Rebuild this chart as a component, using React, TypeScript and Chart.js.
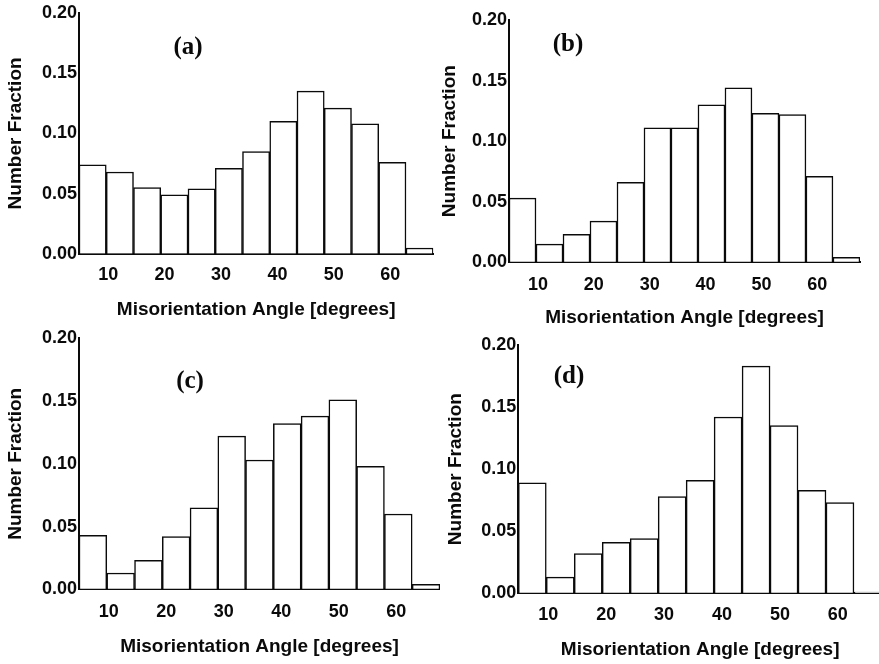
import React, { useEffect, useRef } from "react";
import { Chart, registerables } from "chart.js";
Chart.register(...registerables);

// ---- data ----
const angleBins = [7.245, 12.075, 16.905, 21.735, 26.565, 31.395, 36.225, 41.055, 45.885, 50.715, 55.545, 60.375, 65.205];
const xTickValues = [10, 20, 30, 40, 50, 60];
const yTickValues = [0, 0.05, 0.1, 0.15, 0.2];
const fractionA = [0.074, 0.068, 0.055, 0.049, 0.054, 0.071, 0.085, 0.110, 0.135, 0.121, 0.108, 0.076, 0.005];
const fractionB = [0.053, 0.015, 0.023, 0.034, 0.066, 0.111, 0.111, 0.130, 0.144, 0.123, 0.122, 0.071, 0.004];
const fractionC = [0.043, 0.013, 0.023, 0.042, 0.065, 0.122, 0.103, 0.132, 0.138, 0.151, 0.098, 0.060, 0.004];
const fractionD = [0.089, 0.013, 0.032, 0.041, 0.044, 0.078, 0.091, 0.142, 0.183, 0.135, 0.083, 0.073, 0.001];
const panelLabels = ["(a)", "(b)", "(c)", "(d)"];
const xTitleText = "Misorientation Angle [degrees]";
const yTitleText = "Number Fraction";
const xMin = 4.83;
const xMax = 67.63;

// ---- layout (page pixel positions) ----
type Layout = {
  cx: number; cy: number; cw: number; ch: number;
  L: number; T: number; R: number; B: number;
  xTickY: number; yTitleX: number; xTitleY: number;
  labelX: number; labelY: number;
};

const layouts: Layout[] = [
  { cx: 0, cy: 0, cw: 440, ch: 324, L: 79, T: 12.7, R: 433.3, B: 254, xTickY: 275, yTitleX: 15.5, xTitleY: 310, labelX: 188, labelY: 45 },
  { cx: 430, cy: 0, cw: 449, ch: 334, L: 509, T: 20, R: 860, B: 262.3, xTickY: 285, yTitleX: 449.5, xTitleY: 318, labelX: 568, labelY: 42 },
  { cx: 0, cy: 322, cw: 440, ch: 342, L: 79, T: 338.3, R: 440, B: 589.3, xTickY: 612, yTitleX: 15.5, xTitleY: 647, labelX: 190, labelY: 379 },
  { cx: 430, cy: 322, cw: 460, ch: 342, L: 518.3, T: 345, R: 882, B: 593.3, xTickY: 615, yTitleX: 456, xTitleY: 650, labelX: 569, labelY: 374 },
];

const panelData = [fractionA, fractionB, fractionC, fractionD];

const TICK_FONT = 18;
const TITLE_FONT = 19;
const FAMILY = "'Liberation Sans', Arial, sans-serif";

function Panel({ values, lay, label }: { values: number[]; lay: Layout; label: string }) {
  const ref = useRef<HTMLCanvasElement | null>(null);
  useEffect(() => {
    if (!ref.current) return;
    const tickLh = TICK_FONT * 1.2;
    const titleLh = TITLE_FONT * 1.2;
    const yWidth = lay.L - lay.cx;
    const xHeight = lay.cy + lay.ch - lay.B;
    const chart = new Chart(ref.current, {
      type: "bar",
      data: {
        datasets: [
          {
            data: angleBins.map((x, i) => ({ x, y: values[i] })),
            backgroundColor: "#ffffff",
            borderColor: "#0a0a0a",
            borderWidth: 1.5,
            barPercentage: 1,
            categoryPercentage: 1,
          },
        ],
      },
      options: {
        responsive: false,
        animation: false,
        devicePixelRatio: 1,
        layout: {
          padding: { left: 0, top: lay.T - lay.cy, right: lay.cx + lay.cw - lay.R, bottom: 0 },
        },
        plugins: { legend: { display: false }, tooltip: { enabled: false } },
        scales: {
          x: {
            type: "linear",
            min: xMin,
            max: xMax,
            offset: false,
            grid: { display: true, color: "rgba(0,0,0,0)", drawTicks: false },
            border: { display: true, color: "#0a0a0a", width: 2 },
            afterBuildTicks: (scale: any) => {
              scale.ticks = xTickValues.map((v) => ({ value: v }));
            },
            afterFit: (scale: any) => {
              scale.height = xHeight;
            },
            ticks: {
              autoSkip: false,
              maxRotation: 0,
              padding: lay.xTickY - lay.B - tickLh / 2,
              color: "#0a0a0a",
              font: { family: FAMILY, size: TICK_FONT, weight: "bold" },
              callback: (v: any) => String(v),
            },
            title: {
              display: true,
              text: xTitleText,
              color: "#0a0a0a",
              font: { family: FAMILY, size: TITLE_FONT, weight: "bold" },
              padding: { top: 0, bottom: lay.cy + lay.ch - titleLh / 2 - lay.xTitleY },
            },
          },
          y: {
            min: 0,
            max: 0.2,
            grid: { display: true, color: "rgba(0,0,0,0)", drawTicks: false },
            border: { display: true, color: "#0a0a0a", width: 2 },
            afterBuildTicks: (scale: any) => {
              scale.ticks = yTickValues.map((v) => ({ value: v }));
            },
            afterFit: (scale: any) => {
              scale.width = yWidth;
            },
            ticks: {
              padding: 2,
              color: "#0a0a0a",
              font: { family: FAMILY, size: TICK_FONT, weight: "bold" },
              callback: (v: any) => Number(v).toFixed(2),
            },
            title: {
              display: true,
              text: yTitleText,
              color: "#0a0a0a",
              font: { family: FAMILY, size: TITLE_FONT, weight: "bold" },
              padding: { top: lay.yTitleX - lay.cx - titleLh / 2, bottom: 0 },
            },
          },
        },
      } as any,
    });
    return () => chart.destroy();
  }, [values, lay]);

  return (
    <>
      <canvas
        ref={ref}
        width={lay.cw}
        height={lay.ch}
        style={{ position: "absolute", left: lay.cx, top: lay.cy, width: lay.cw, height: lay.ch }}
      />
      <div
        style={{
          position: "absolute",
          left: lay.labelX,
          top: lay.labelY,
          transform: "translate(-50%, -50%)",
          fontFamily: "'Liberation Serif', 'Times New Roman', serif",
          fontWeight: "bold",
          fontSize: 25,
          color: "#0a0a0a",
          lineHeight: 1,
          whiteSpace: "nowrap",
        }}
      >
        {label}
      </div>
    </>
  );
}

export default function App() {
  return (
    <div
      style={{
        position: "fixed",
        left: 0,
        top: 0,
        width: 879,
        height: 664,
        overflow: "hidden",
        background: "#ffffff",
      }}
    >
      {layouts.map((lay, i) => (
        <Panel key={i} values={panelData[i]} lay={lay} label={panelLabels[i]} />
      ))}
    </div>
  );
}
